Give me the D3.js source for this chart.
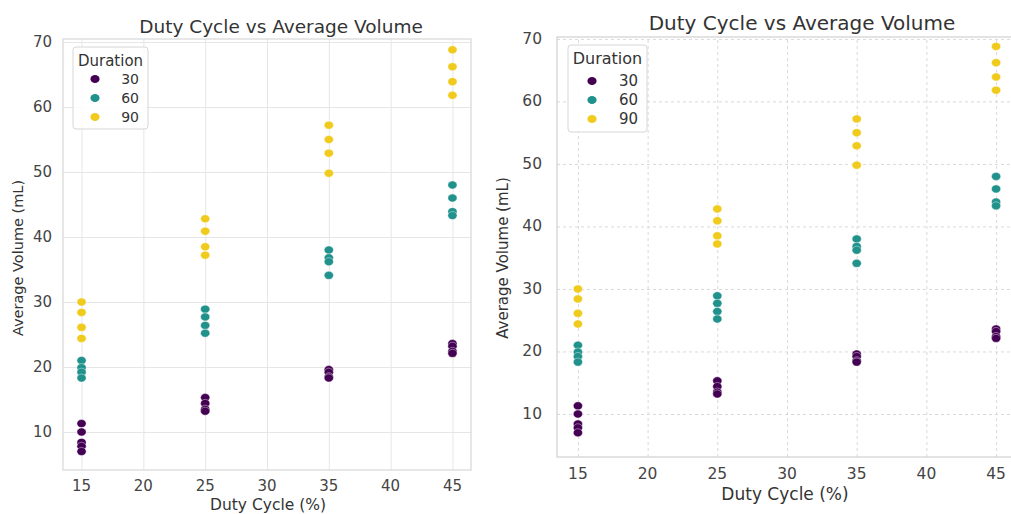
<!DOCTYPE html>
<html>
<head>
<meta charset="utf-8">
<script src="https://cdn.jsdelivr.net/npm/d3@7"></script>
<style>
  body { margin: 0; background: #fff; }
  svg { display: block; font-family: "DejaVu Sans", sans-serif; }
</style>
</head>
<body>
<div id="chart"></div>
<script>
/* Duty Cycle vs Average Volume, two copies side by side */

// data
const dutyCycles = [15, 25, 35, 45];
const durations = [30, 60, 90];
const xTicks = [15, 20, 25, 30, 35, 40, 45];
const yTicks = [10, 20, 30, 40, 50, 60, 70];

// one list per duty cycle, average volume (mL)
const vol30 = [[11.3, 10.0, 8.4, 7.8, 7.0], [15.3, 14.4, 13.5, 13.2], [19.6, 19.2, 18.5, 18.3], [23.6, 23.2, 22.4, 22.1]];
const vol60 = [[21.0, 19.9, 19.2, 18.3], [28.9, 27.7, 26.4, 25.2], [38.0, 36.8, 36.2, 34.1], [48.0, 46.0, 43.9, 43.3]];
const vol90 = [[30.0, 28.4, 26.1, 24.4], [42.8, 40.9, 38.5, 37.2], [57.2, 55.0, 52.9, 49.8], [68.8, 66.2, 63.9, 61.8]];

const colors = ["#440154", "#21918c", "#f0cb1e"];

let points = [];
[vol30, vol60, vol90].forEach((series, k) => {
    series.forEach((vals, i) => {
        vals.forEach(v => points.push({ dc: dutyCycles[i], vol: v, dur: durations[k] }));
    });
});

const svg = d3.select("#chart").append("svg")
    .attr("width", 1011)
    .attr("height", 514);

const color = d3.scaleOrdinal().domain(durations).range(colors);

function drawPanel(p) {
    let x = d3.scaleLinear().domain([13.5, 46.5]).range([p.left, p.right]);
    let y = d3.scaleLinear().domain(p.yDomain).range([p.bottom, p.top]);

    let g = svg.append("g");

    // grid
    let gx = g.append("g")
        .attr("transform", "translate(0," + p.bottom + ")")
        .call(d3.axisBottom(x).tickValues(xTicks).tickSize(-(p.bottom - p.top)).tickFormat(""));
    let gy = g.append("g")
        .attr("transform", "translate(" + p.left + ",0)")
        .call(d3.axisLeft(y).tickValues(yTicks).tickSize(-(p.right - p.left)).tickFormat(""));
    [gx, gy].forEach(a => {
        a.select(".domain").remove();
        a.selectAll("line")
            .attr("stroke", p.gridColor)
            .attr("stroke-width", 1)
            .attr("stroke-dasharray", p.dashed ? "3,3" : null);
    });

    // frame
    g.append("rect")
        .attr("x", p.left).attr("y", p.top)
        .attr("width", p.right - p.left).attr("height", p.bottom - p.top)
        .attr("fill", "none")
        .attr("stroke", p.frameColor)
        .attr("stroke-width", 1.2);

    // tick labels
    g.selectAll(".xt").data(xTicks).enter().append("text")
        .attr("x", d => x(d)).attr("y", p.bottom + p.xTickOff)
        .attr("text-anchor", "middle")
        .attr("font-size", p.tickSize)
        .attr("fill", "#444")
        .text(d => d);
    g.selectAll(".yt").data(yTicks).enter().append("text")
        .attr("x", p.left - p.yTickOff).attr("y", d => y(d) + 5)
        .attr("text-anchor", "end")
        .attr("font-size", p.tickSize)
        .attr("fill", "#444")
        .text(d => d);

    // points
    g.selectAll("ellipse.pt").data(points).enter().append("ellipse")
        .attr("class", "pt")
        .attr("cx", d => x(d.dc)).attr("cy", d => y(d.vol))
        .attr("rx", 4.6).attr("ry", 4)
        .attr("fill", d => color(d.dur))
        .attr("stroke", "#fff")
        .attr("stroke-width", 0.4);

    // titles
    g.append("text")
        .attr("x", p.titleX).attr("y", p.titleY)
        .attr("text-anchor", "middle")
        .attr("font-size", p.titleSize)
        .attr("fill", "#333")
        .text("Duty Cycle vs Average Volume");
    g.append("text")
        .attr("x", p.xLabX).attr("y", p.xLabY)
        .attr("text-anchor", "middle")
        .attr("font-size", p.labSize)
        .attr("fill", "#333")
        .text("Duty Cycle (%)");
    g.append("text")
        .attr("transform", "translate(" + p.yLabX + "," + p.yLabY + ") rotate(-90)")
        .attr("text-anchor", "middle")
        .attr("font-size", p.yLabSize)
        .attr("fill", "#333")
        .text("Average Volume (mL)");

    // legend
    let lg = g.append("g");
    lg.append("rect")
        .attr("x", p.leg.x).attr("y", p.leg.y)
        .attr("width", p.leg.w).attr("height", p.leg.h)
        .attr("rx", 3)
        .attr("fill", "#fff")
        .attr("fill-opacity", 0.85)
        .attr("stroke", "#d6d6d6");
    lg.append("text")
        .attr("x", p.leg.x + p.leg.w / 2).attr("y", p.leg.y + 19)
        .attr("text-anchor", "middle")
        .attr("font-size", p.leg.font)
        .attr("fill", "#333")
        .text("Duration");
    durations.forEach((d, i) => {
        lg.append("ellipse")
            .attr("cx", p.leg.dotX).attr("cy", p.leg.firstY + i * 19)
            .attr("rx", 4.6).attr("ry", 4)
            .attr("fill", color(d));
        lg.append("text")
            .attr("x", p.leg.labX).attr("y", p.leg.firstY + i * 19 + 5)
            .attr("text-anchor", "end")
            .attr("font-size", p.leg.font - 1)
            .attr("fill", "#333")
            .text(d);
    });
}

drawPanel({
    left: 63, right: 471, top: 39, bottom: 470,
    yDomain: [4.15, 70.46],
    dashed: false, gridColor: "#e6e6e6", frameColor: "#d8d8d8",
    tickSize: 15, xTickOff: 21, yTickOff: 11,
    titleX: 281, titleY: 33, titleSize: 18.5,
    xLabX: 268, xLabY: 510, labSize: 15.5,
    yLabX: 23, yLabY: 258, yLabSize: 14.5,
    leg: { x: 73, y: 47, w: 75, h: 82, dotX: 95, firstY: 79, labX: 139, font: 15 }
});

drawPanel({
    left: 557, right: 1017, top: 37, bottom: 457,
    yDomain: [3.12, 70.3],
    dashed: true, gridColor: "#d9d9d9", frameColor: "#d0d0d0",
    tickSize: 15.5, xTickOff: 22, yTickOff: 15,
    titleX: 802, titleY: 30, titleSize: 20,
    xLabX: 785, xLabY: 500, labSize: 17,
    yLabX: 508, yLabY: 258, yLabSize: 15,
    leg: { x: 568, y: 45, w: 79, h: 87, dotX: 592, firstY: 81, labX: 638, font: 16 }
});
</script>
</body>
</html>
